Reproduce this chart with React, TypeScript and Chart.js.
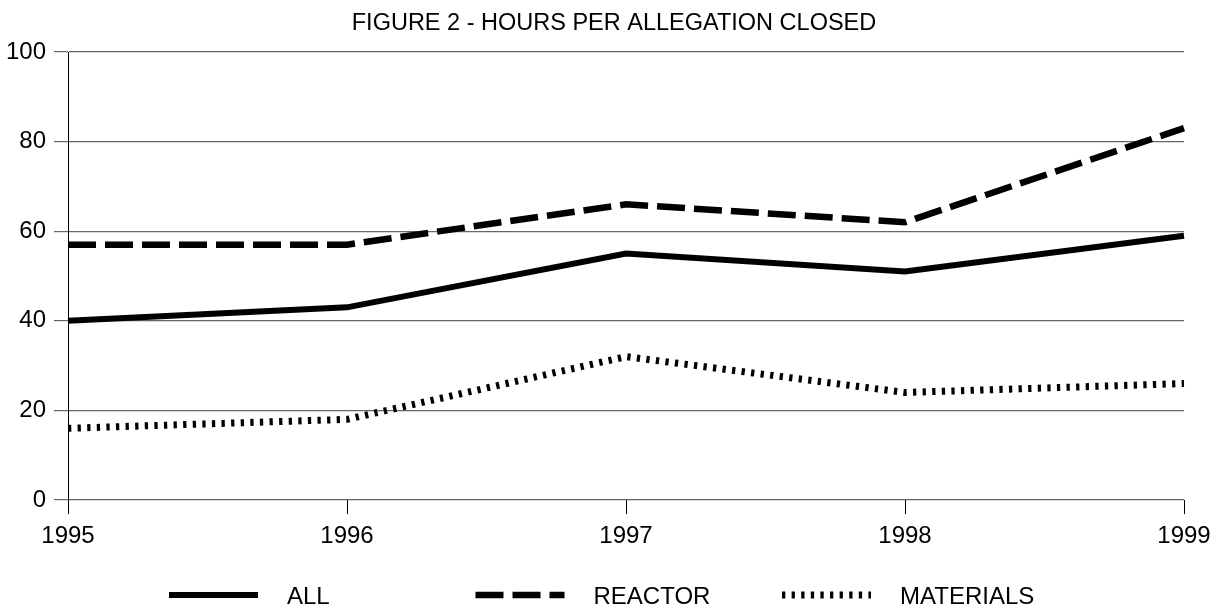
import React, { useEffect, useRef } from "react";
import { Chart, registerables } from "chart.js";

Chart.register(...registerables);

const years = ["1995", "1996", "1997", "1998", "1999"];
const allValues = [40, 43, 55, 51, 59];
const reactorValues = [57, 57, 66, 62, 83];
const materialsValues = [16, 18, 32, 24, 26];
const seriesLabels = ["ALL", "REACTOR", "MATERIALS"];
const titleText = "FIGURE 2 - HOURS PER ALLEGATION CLOSED";

const FONT = '"Liberation Sans", Arial, sans-serif';

const titlePlugin = {
  id: "customTitle",
  afterDraw(chart: any) {
    const ctx = chart.ctx;
    ctx.save();
    ctx.font = `23.5px ${FONT}`;
    ctx.fillStyle = "#000";
    ctx.textAlign = "center";
    ctx.textBaseline = "alphabetic";
    ctx.fillText(titleText, 614, 29.5);
    ctx.restore();
  },
};

const legendPlugin = {
  id: "customLegend",
  afterDraw(chart: any) {
    const ctx = chart.ctx;
    const y = 595;
    chart.data.datasets.forEach((ds: any, i: number) => {
      const x0 = 169 + i * 306.5;
      ctx.save();
      ctx.strokeStyle = ds.borderColor;
      ctx.lineWidth = ds.borderWidth;
      ctx.lineCap = "butt";
      ctx.setLineDash(ds.borderDash || []);
      ctx.beginPath();
      ctx.moveTo(x0, y);
      ctx.lineTo(x0 + 89, y);
      ctx.stroke();
      ctx.setLineDash([]);
      ctx.font = `24px ${FONT}`;
      ctx.fillStyle = "#000";
      ctx.textAlign = "left";
      ctx.textBaseline = "alphabetic";
      ctx.fillText(ds.label, x0 + 118, 603.5);
      ctx.restore();
    });
  },
};

export default function App() {
  const ref = useRef<HTMLCanvasElement | null>(null);

  useEffect(() => {
    if (!ref.current) return;
    const chart = new Chart(ref.current, {
      type: "line",
      data: {
        labels: years,
        datasets: [
          {
            label: seriesLabels[0],
            data: allValues,
            borderColor: "#000",
            backgroundColor: "#000",
            borderWidth: 6,
            borderDash: [],
            pointRadius: 0,
            tension: 0,
            fill: false,
          },
          {
            label: seriesLabels[1],
            data: reactorValues,
            borderColor: "#000",
            backgroundColor: "#000",
            borderWidth: 6.5,
            borderDash: [28, 9],
            pointRadius: 0,
            tension: 0,
            fill: false,
          },
          {
            label: seriesLabels[2],
            data: materialsValues,
            borderColor: "#000",
            backgroundColor: "#000",
            borderWidth: 7,
            borderDash: [3.3, 6.3],
            pointRadius: 0,
            tension: 0,
            fill: false,
          },
        ],
      },
      options: {
        animation: false,
        responsive: false,
        maintainAspectRatio: false,
        layout: { padding: { top: 52, right: 36, left: 0, bottom: 0 } },
        plugins: {
          legend: { display: false },
          title: { display: false },
          tooltip: { enabled: false },
        },
        scales: {
          x: {
            type: "category",
            offset: false,
            grid: {
              drawOnChartArea: false,
              drawTicks: true,
              tickLength: 14,
              color: "#000",
              lineWidth: 1,
              offset: false,
            },
            border: { display: false },
            ticks: {
              color: "#000",
              font: { family: FONT, size: 24 },
              padding: 8,
              maxRotation: 0,
              autoSkip: false,
            },
            afterFit(scale: any) {
              scale.height = 107;
            },
          },
          y: {
            min: 0,
            max: 100,
            grid: {
              color: "#666",
              lineWidth: 1.2,
              drawTicks: true,
              tickLength: 14,
            },
            border: { display: true, color: "#000", width: 1 },
            ticks: {
              stepSize: 20,
              color: "#000",
              font: { family: FONT, size: 24 },
              padding: 8,
            },
            afterFit(scale: any) {
              scale.width = 68;
            },
          },
        },
      },
      plugins: [titlePlugin, legendPlugin],
    });
    return () => chart.destroy();
  }, []);

  return (
    <div style={{ position: "fixed", left: 0, top: 0, width: 1220, height: 607, background: "#fff" }}>
      <canvas ref={ref} width={1220} height={607} style={{ display: "block", width: 1220, height: 607 }} />
    </div>
  );
}
